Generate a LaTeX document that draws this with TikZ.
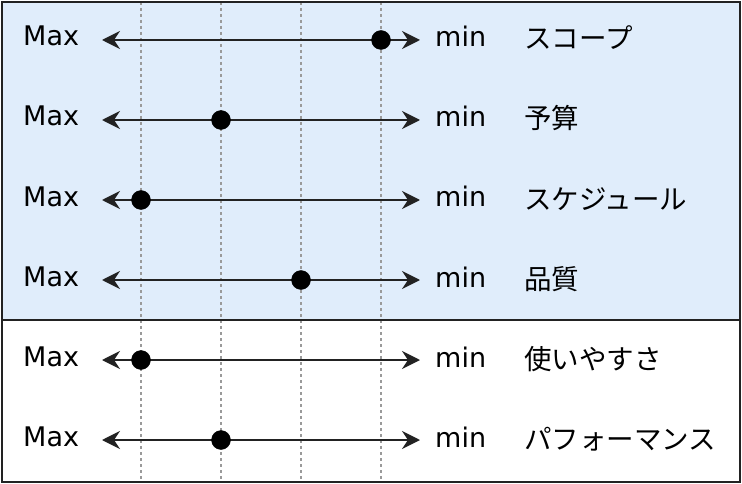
\documentclass[tikz,border=0pt]{standalone}
\usepackage{fontspec}
\setmainfont{DejaVu Sans}
\newfontfamily\jpfont{Noto Sans CJK JP}
\usetikzlibrary{arrows.meta}
\definecolor{topfill}{HTML}{E0EDFB}
\definecolor{linecol}{HTML}{222222}
\definecolor{gridcol}{HTML}{9A9A9A}
\tikzset{
  frame/.style={draw=linecol, line width=2pt},
  gridline/.style={draw=gridcol, line width=1.1pt, dash pattern=on 3pt off 3pt},
  axis/.style={draw=linecol, line width=2pt, {Stealth[length=18pt,width=18pt,inset=6pt]}-{Stealth[length=18pt,width=18pt,inset=6pt]}},
  lbl/.style={inner sep=0pt, anchor=base west, font=\fontsize{27}{30}\selectfont, text=black},
  jlbl/.style={inner sep=0pt, anchor=base west, font=\jpfont\fontsize{27.5}{30}\selectfont, text=black},
  dotmark/.style={circle, fill=black, draw=black, inner sep=0pt, minimum size=19pt}
}
\begin{document}
\begin{tikzpicture}[x=1pt,y=-1pt]
\useasboundingbox (0,0) rectangle (742,484);
\fill[topfill] (2,2) rectangle (740,320);
\fill[white] (2,320) rectangle (740,482);
\foreach \gx in {141,221,301,381}{
  \draw[gridline] (\gx,2) -- (\gx,482);
}
\foreach \i/\y/\d/\t in {1/40/381/スコープ, 2/120/221/予算, 3/200/141/スケジュール, 4/280/301/品質, 5/360/141/使いやすさ, 6/440/221/パフォーマンス}{
  \coordinate (L\i) at (102,\y);
  \coordinate (R\i) at (420,\y);
  \draw[axis] (L\i) -- (R\i);
  \node[dotmark] (d\i) at (\d,\y) {};
  \node[lbl] (max\i) at (23,\y+6) {Max};
  \node[lbl] (min\i) at (435,\y+7) {min};
  \node[jlbl] (j\i) at (524,\y+9) {\t};
}
\draw[frame] (2,2) rectangle (740,482);
\draw[frame] (2,320) -- (740,320);
\end{tikzpicture}
\end{document}
